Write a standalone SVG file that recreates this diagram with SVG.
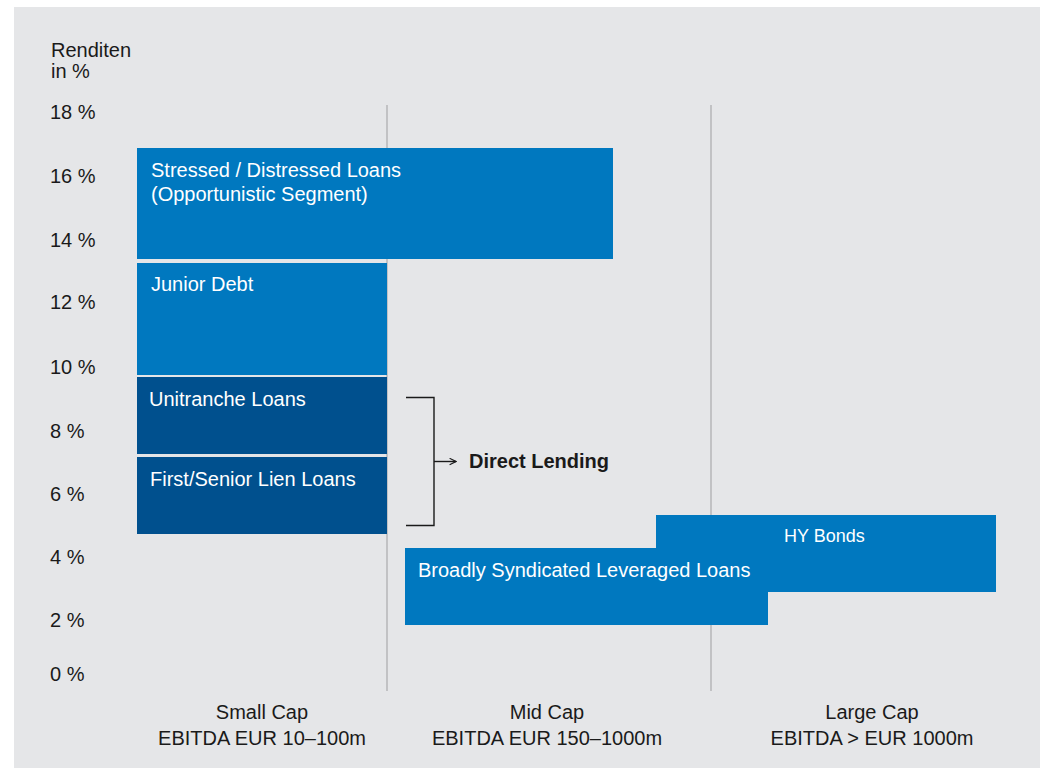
<svg xmlns="http://www.w3.org/2000/svg" width="1040" height="769" viewBox="0 0 1040 769">
<defs>
<style>
.t{font-family:"Liberation Sans",Arial,sans-serif;font-size:20px;fill:#1a1a1a}
.w{font-family:"Liberation Sans",Arial,sans-serif;font-size:20px;fill:#ffffff}
.c{text-anchor:middle}
.b1{fill:#0078bf}
.b2{fill:#00508e}
.grid{stroke:#a9aaac;stroke-width:1.2;fill:none}
.conn{stroke:#1a1a1a;stroke-width:1.4;fill:none}
</style>
<marker id="arr" viewBox="0 0 10 10" refX="9" refY="5" markerWidth="8" markerHeight="8" markerUnits="userSpaceOnUse" orient="auto">
<path d="M1,1 L9,5 L1,9" fill="none" stroke="#1a1a1a" stroke-width="1.4"/>
</marker>
</defs>
<rect x="0" y="0" width="1040" height="769" fill="#ffffff"/>
<rect x="14" y="7" width="1026" height="761" fill="#e5e6e8"/>
<g id="axis">
<text class="t" x="51" y="57">Renditen</text>
<text class="t" x="51" y="78">in %</text>
<text class="t" x="50" y="119">18 %</text>
<text class="t" x="50" y="183">16 %</text>
<text class="t" x="50" y="247">14 %</text>
<text class="t" x="50" y="309">12 %</text>
<text class="t" x="50" y="374">10 %</text>
<text class="t" x="50" y="438">8 %</text>
<text class="t" x="50" y="501">6 %</text>
<text class="t" x="50" y="564">4 %</text>
<text class="t" x="50" y="627">2 %</text>
<text class="t" x="50" y="681">0 %</text>
</g>
<g id="gridlines">
<line class="grid" x1="387" y1="105" x2="387" y2="691"/>
<line class="grid" x1="711" y1="105" x2="711" y2="691"/>
</g>
<g id="stressed">
<rect class="b1" x="137" y="148" width="476" height="111"/>
<text class="w" x="151" y="177">Stressed / Distressed Loans</text>
<text class="w" x="151" y="201">(Opportunistic Segment)</text>
</g>
<g id="junior">
<rect class="b1" x="137" y="263" width="250" height="112"/>
<text class="w" x="151" y="291">Junior Debt</text>
</g>
<g id="unitranche">
<rect class="b2" x="137" y="377" width="250" height="77"/>
<text class="w" x="149" y="406">Unitranche Loans</text>
</g>
<g id="first">
<rect class="b2" x="137" y="457" width="250" height="77"/>
<text class="w" x="150" y="486">First/Senior Lien Loans</text>
</g>
<g id="hy">
<rect class="b1" x="656" y="515" width="340" height="77"/>
<text class="w" x="784" y="542" style="font-size:18px">HY Bonds</text>
</g>
<g id="bsl">
<rect class="b1" x="405" y="548" width="363" height="77"/>
<text class="w" x="418" y="577">Broadly Syndicated Leveraged Loans</text>
</g>
<g id="direct">
<text class="t" x="469" y="468" style="font-weight:bold">Direct Lending</text>
</g>
<g id="connectors">
<path class="conn" d="M406,397.5 H434 V525.5 H406"/>
<line class="conn" x1="434" y1="461.5" x2="456" y2="461.5" marker-end="url(#arr)"/>
</g>
<g id="categories">
<text class="t c" x="262" y="719">Small Cap</text>
<text class="t c" x="262" y="745">EBITDA EUR 10–100m</text>
<text class="t c" x="547" y="719">Mid Cap</text>
<text class="t c" x="547" y="745">EBITDA EUR 150–1000m</text>
<text class="t c" x="872" y="719">Large Cap</text>
<text class="t c" x="872" y="745">EBITDA &gt; EUR 1000m</text>
</g>
</svg>
